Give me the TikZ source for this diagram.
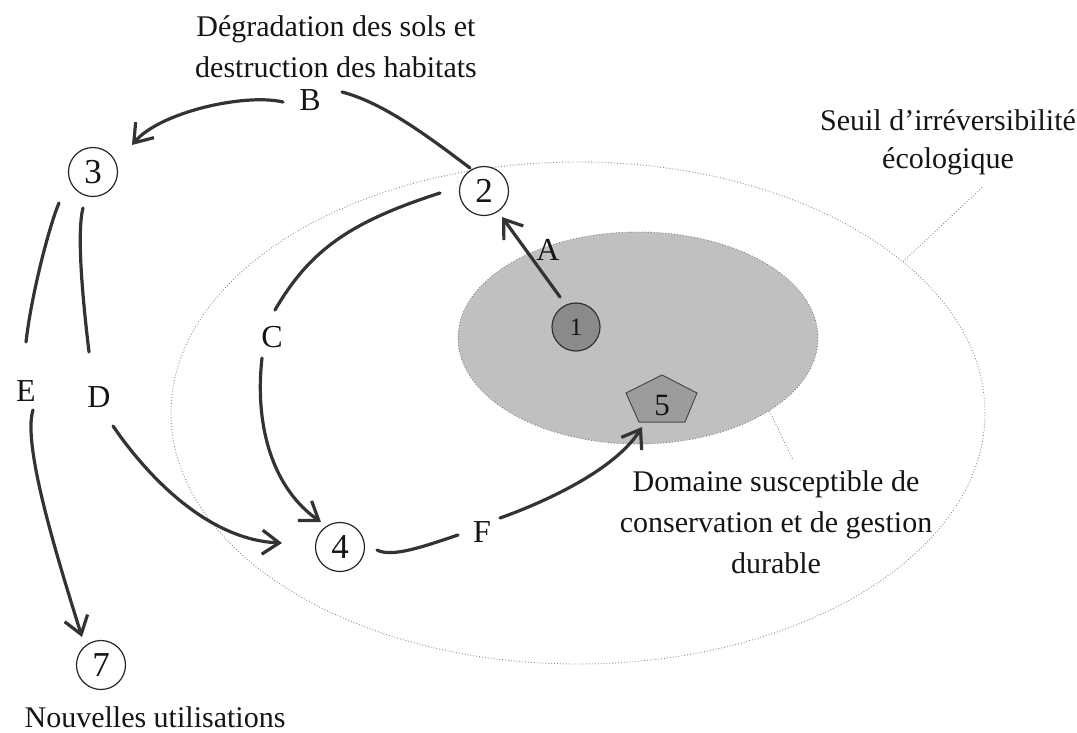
\documentclass[tikz,border=0pt]{standalone}
\usepackage{fontspec}
\setmainfont{Liberation Serif}
\usetikzlibrary{arrows.meta,calc,shapes.geometric}
\definecolor{ink}{HTML}{333333}
\definecolor{txtc}{HTML}{151515}
\definecolor{domfill}{HTML}{C0C0C0}
\definecolor{onefill}{HTML}{8A8A8A}
\definecolor{pentfill}{HTML}{9C9C9C}
\begin{document}
\begin{tikzpicture}[x=1pt,y=-1pt,
  conn/.style={draw=ink, line width=3.2pt, line cap=round},
  arr/.style={conn, -{Straight Barb[length=17pt,width=24pt]}},
  num/.style={circle, draw=black!85, line width=1.2pt, fill=white, minimum size=49pt, inner sep=0pt, text=txtc, font=\fontsize{35}{35}\selectfont},
  lab/.style={inner sep=0pt, text=txtc, font=\fontsize{32}{32}\selectfont},
  txt/.style={inner sep=0pt, align=center, text=txtc, font=\fontsize{30}{41}\selectfont},
  lead/.style={draw=black!45, line width=0.9pt, dotted}
]
\useasboundingbox (0,0) rectangle (1077,732);

% ellipses
\node[ellipse, draw=black!45, line width=0.9pt, dotted, minimum width=814pt, minimum height=502pt, inner sep=0pt] (outer) at (578,413) {};
\node[ellipse, draw=black!50, line width=0.9pt, dotted, fill=domfill, minimum width=360pt, minimum height=212pt, inner sep=0pt] (inner) at (638,338) {};

% texts (anchor base = baseline of the last line)
\node[txt, anchor=base] (deg) at (336,77) {Dégradation des sols et\\destruction des habitats};
\node[txt, anchor=base, font=\fontsize{30}{38}\selectfont] (seuil) at (948,168) {Seuil d’irréversibilité\\écologique};
\node[txt, anchor=base] (dom) at (776,573) {Domaine susceptible de\\conservation et de gestion\\durable};
\node[txt, anchor=base] (nouv) at (155,727) {Nouvelles utilisations};

% leaders
\draw[lead] (outer.25) -- ($(seuil.south)+(35,12)$);
\draw[lead] (inner.-29) -- ($(dom.north)+(17,-10)$);

% state nodes
\node[num] (n2) at (484,191) {2};
\node[num] (n3) at (93,172) {3};
\node[num] (n4) at (340,547) {4};
\node[num] (n7) at (101,665) {7};
\node[circle, draw=black!80, line width=1.2pt, fill=onefill, minimum size=48pt, inner sep=0pt, text=txtc, font=\fontsize{25}{25}\selectfont] (n1) at (576,327) {1};
\coordinate (c5) at (662,405);
\draw[draw=black!70, line width=1pt, fill=pentfill] ($(c5)+(0,-30)$) -- ($(c5)+(35,-12)$) -- ($(c5)+(23,17)$) -- ($(c5)+(-23,17)$) -- ($(c5)+(-36,-12)$) -- cycle;
\node[inner sep=0pt, text=txtc, font=\fontsize{31}{31}\selectfont] (n5) at (c5) {5};

% labels
\node[lab] (A) at (548,250) {A};
\node[lab] (B) at (310,100) {B};
\node[lab] (C) at (272,337) {C};
\node[lab] (D) at (99,397) {D};
\node[lab] (E) at (26,391) {E};
\node[lab] (F) at (482,532) {F};

% connectors
\draw[arr] ($(n1)+(-16,-30)$) -- ($(n2)+(18,26)$);
\draw[conn] ($(n2)+(-14,-23)$) .. controls (420,130) and (380,102) .. ($(B)+(32,-8)$);
\draw[arr] ($(B)+(-27,2)$) .. controls (245,93) and (160,112) .. ($(n3)+(39,-27)$);
\draw[conn] ($(n2)+(-44,2)$) .. controls (350,222) and (310,250) .. ($(C)+(3,-27)$);
\draw[arr] ($(C)+(-10,21)$) .. controls (254,430) and (275,490) .. ($(n4)+(-19,-25)$);
\draw[conn] ($(n3)+(-34,31)$) .. controls (51,221) and (32,290) .. ($(E)+(0,-49)$);
\draw[conn] ($(n3)+(-10,36)$) .. controls (76,235) and (84,310) .. ($(D)+(-10,-45)$);
\draw[arr] ($(E)+(7,19)$) .. controls (22,445) and (58,560) .. ($(n7)+(-19,-28)$);
\draw[arr] ($(D)+(14,29)$) .. controls (150,480) and (210,540) .. ($(n4)+(-58,-4)$);
\draw[conn] ($(n4)+(37,3)$) .. controls (392,558) and (425,546) .. ($(F)+(-24,3)$);
\draw[arr] ($(F)+(18,-14)$) .. controls (545,502) and (615,470) .. ($(n5)+(-20,22)$);
\end{tikzpicture}
\end{document}
